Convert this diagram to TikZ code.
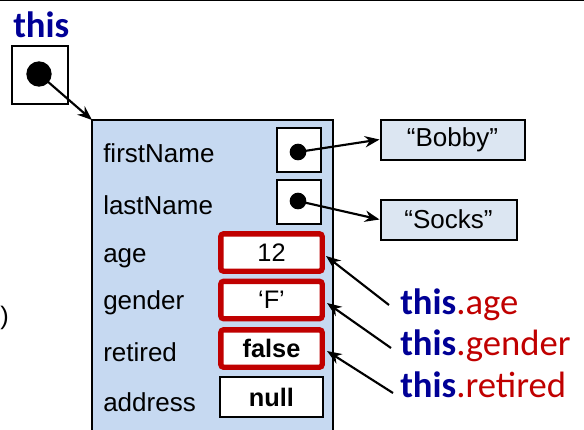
\documentclass[tikz,border=0pt]{standalone}
\usepackage{fontspec}
\setmainfont{Liberation Sans}
\newfontfamily\calibrifont{Carlito}
\usetikzlibrary{arrows.meta}
\definecolor{thisblue}{RGB}{0,0,150}
\definecolor{fieldred}{RGB}{192,0,0}
\definecolor{objfill}{RGB}{198,217,241}
\definecolor{strfill}{RGB}{220,230,242}
\tikzset{
  arr/.style={draw=black, line width=1.6pt, -{Stealth[length=11pt,width=8.5pt]}},
  refbox/.style={draw=black, line width=1.5pt, fill=white, minimum width=33pt, minimum height=33pt, inner sep=0pt},
  valbox/.style={draw=fieldred, line width=4pt, fill=white, rounded corners=2pt, minimum width=76pt, minimum height=28pt, inner sep=0pt, font=\fontsize{19}{21}\selectfont},
  nullbox/.style={draw=black, line width=1.5pt, fill=white, minimum width=77pt, minimum height=30pt, inner sep=0pt, font=\fontsize{19}{21}\selectfont\bfseries},
  strbox/.style={draw=black, line width=1.5pt, fill=strfill, minimum height=30pt, inner sep=0pt, font=\fontsize{19.5}{21}\selectfont},
  fieldlbl/.style={anchor=west, inner sep=0pt, font=\fontsize{19.5}{21}\selectfont},
  dot/.style={circle, fill=black, inner sep=0pt},
  thislbl/.style={anchor=west, inner sep=0pt, font=\calibrifont\fontsize{27.5}{30}\selectfont}
}
\begin{document}
\begin{tikzpicture}[x=0.75pt, y=-0.75pt]
\useasboundingbox (0,0) rectangle (584,429);
\draw[line width=1pt] (0,0.5) -- (584,0.5);
% this variable
\node[anchor=west, inner sep=0pt, text=thisblue, font=\calibrifont\bfseries\fontsize{27.5}{30}\selectfont] (thistxt) at (13,25) {this};
\node[refbox, minimum width=42pt, minimum height=44pt] (thisbox) at (40,75) {};
\node[dot, minimum size=19pt] (thisdot) at (39,74) {};
% object
\fill[objfill] (92,120) rectangle (333,432);
\draw[line width=1.5pt] (92,432) -- (92,120) -- (333,120) -- (333,432);
\coordinate (objcorner) at (92,120);
\draw[arr] (thisdot.center) -- (objcorner);
% field labels
\node[fieldlbl] (f1) at (103,153) {firstName};
\node[fieldlbl] (f2) at (103,205) {lastName};
\node[fieldlbl] (f3) at (103,258) {age};
\node[fieldlbl] (f4) at (103,303) {gender};
\node[fieldlbl] (f5) at (103,352) {retired};
\node[fieldlbl] (f6) at (103,402) {address};
% ref boxes
\node[refbox] (r1) at (298.5,149.5) {};
\node[refbox] (r2) at (298.5,201.5) {};
\node[dot, minimum size=12.5pt] (d1) at (298,152) {};
\node[dot, minimum size=12.5pt] (d2) at (298,201) {};
% value boxes
\node[valbox] (v1) at (271.5,252.5) {12};
\node[valbox] (v2) at (271.5,300) {‘F’};
\node[valbox, font=\fontsize{19}{21}\selectfont\bfseries] (v3) at (271.5,348.5) {false};
\node[nullbox] (v4) at (271.5,397) {null};
% strings
\node[strbox, minimum width=108pt] (bobby) at (452.5,139.5) {“Bobby”};
\node[strbox, minimum width=102pt] (socks) at (448.5,219.5) {“Socks”};
\draw[arr] (d1.center) -- (bobby.west);
\draw[arr] (d2.center) -- (socks.west);
% this.field labels
\node[thislbl] (t1) at (400,305) {\textcolor{thisblue}{\bfseries this}\textcolor{fieldred}{.age}};
\node[thislbl] (t2) at (400,346) {\textcolor{thisblue}{\bfseries this}\textcolor{fieldred}{.gender}};
\node[thislbl] (t3) at (400,385) {\textcolor{thisblue}{\bfseries this}\textcolor{fieldred}{.retired}};
\coordinate (s1) at (389,305);
\coordinate (s2) at (391,348);
\coordinate (s3) at (393,393);
\coordinate (e1) at (326,256);
\coordinate (e2) at (327,303);
\coordinate (e3) at (327,351);
\draw[arr] (s1) -- (e1);
\draw[arr] (s2) -- (e2);
\draw[arr] (s3) -- (e3);
% stray parenthesis
\node[inner sep=0pt, anchor=west, font=\fontsize{19}{21}\selectfont] (paren) at (0,318) {)};
\end{tikzpicture}
\end{document}
